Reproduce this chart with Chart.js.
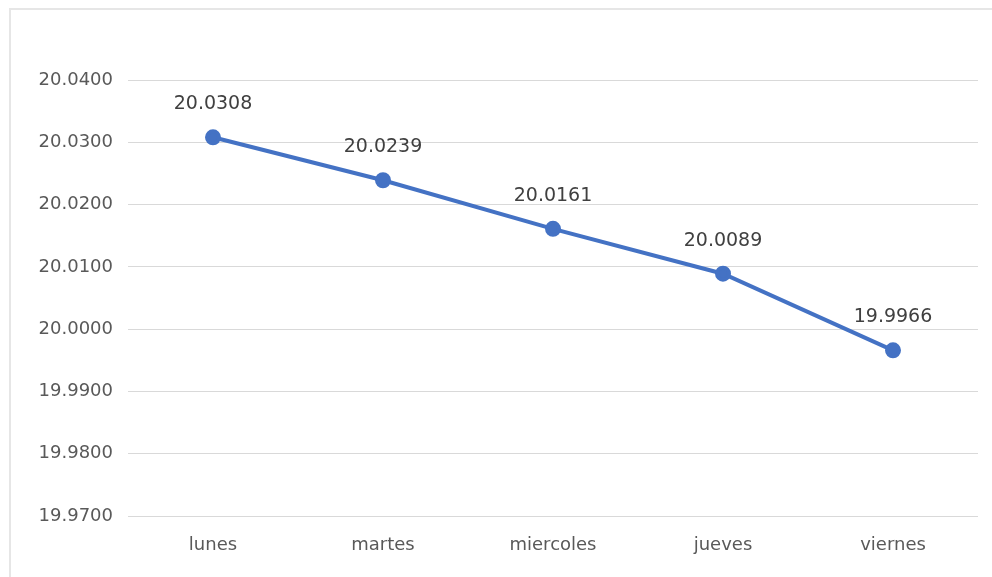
<!DOCTYPE html>
<html>
<head>
<meta charset="utf-8">
<script src="https://cdn.jsdelivr.net/npm/chart.js@4/dist/chart.umd.min.js"></script>
<style>
  html, body { margin: 0; padding: 0; background: #ffffff; }
  #wrap { position: relative; width: 992px; height: 577px; }
  #frame { position: absolute; left: 9px; top: 8px; right: 0; bottom: 0;
           border-left: 2px solid #e6e6e6; border-top: 2px solid #e6e6e6; pointer-events: none; }
  canvas { position: absolute; left: 0; top: 0; }
</style>
</head>
<body>
<div id="wrap">
  <canvas id="c" width="992" height="577"></canvas>
  <div id="frame"></div>
</div>
<script>
const categories = ["lunes", "martes", "miercoles", "jueves", "viernes"];
const values = [20.0308, 20.0239, 20.0161, 20.0089, 19.9966];
const yMin = 19.97;
const yMax = 20.04;
const yStep = 0.01;

const FONT = "'DejaVu Sans', sans-serif";

const valueLabels = {
  id: 'valueLabels',
  afterDatasetsDraw(chart) {
    const ctx = chart.ctx;
    const meta = chart.getDatasetMeta(0);
    ctx.save();
    ctx.font = "19px " + FONT;
    ctx.fillStyle = "#404040";
    ctx.textAlign = "center";
    ctx.textBaseline = "middle";
    meta.data.forEach((pt, i) => {
      ctx.fillText(values[i].toFixed(4), pt.x, pt.y - 33);
    });
    ctx.restore();
  }
};

new Chart(document.getElementById('c'), {
  type: 'line',
  data: {
    labels: categories,
    datasets: [{
      data: values,
      borderColor: '#4472C4',
      backgroundColor: '#4472C4',
      borderWidth: 4,
      pointRadius: 6,
      pointHoverRadius: 6,
      pointBackgroundColor: '#4472C4',
      pointBorderColor: '#4472C4',
      tension: 0,
      fill: false
    }]
  },
  options: {
    responsive: false,
    animation: false,
    devicePixelRatio: 1,
    layout: { padding: { left: 0, right: 14, top: 80, bottom: 0 } },
    plugins: { legend: { display: false }, tooltip: { enabled: false }, title: { display: false } },
    scales: {
      x: {
        offset: true,
        grid: { display: false, drawTicks: false },
        border: { display: false },
        ticks: { color: '#595959', font: { family: FONT, size: 18 }, padding: 19 },
        afterFit(scale) { scale.height = 61; }
      },
      y: {
        min: yMin,
        max: yMax,
        grid: { color: '#d9d9d9', lineWidth: 1, drawTicks: false },
        border: { display: false },
        ticks: {
          stepSize: yStep,
          color: '#595959',
          font: { family: FONT, size: 18 },
          padding: 15,
          callback: (v) => Number(v).toFixed(4)
        },
        afterFit(scale) { scale.width = 128; }
      }
    }
  },
  plugins: [valueLabels]
});
</script>
</body>
</html>
